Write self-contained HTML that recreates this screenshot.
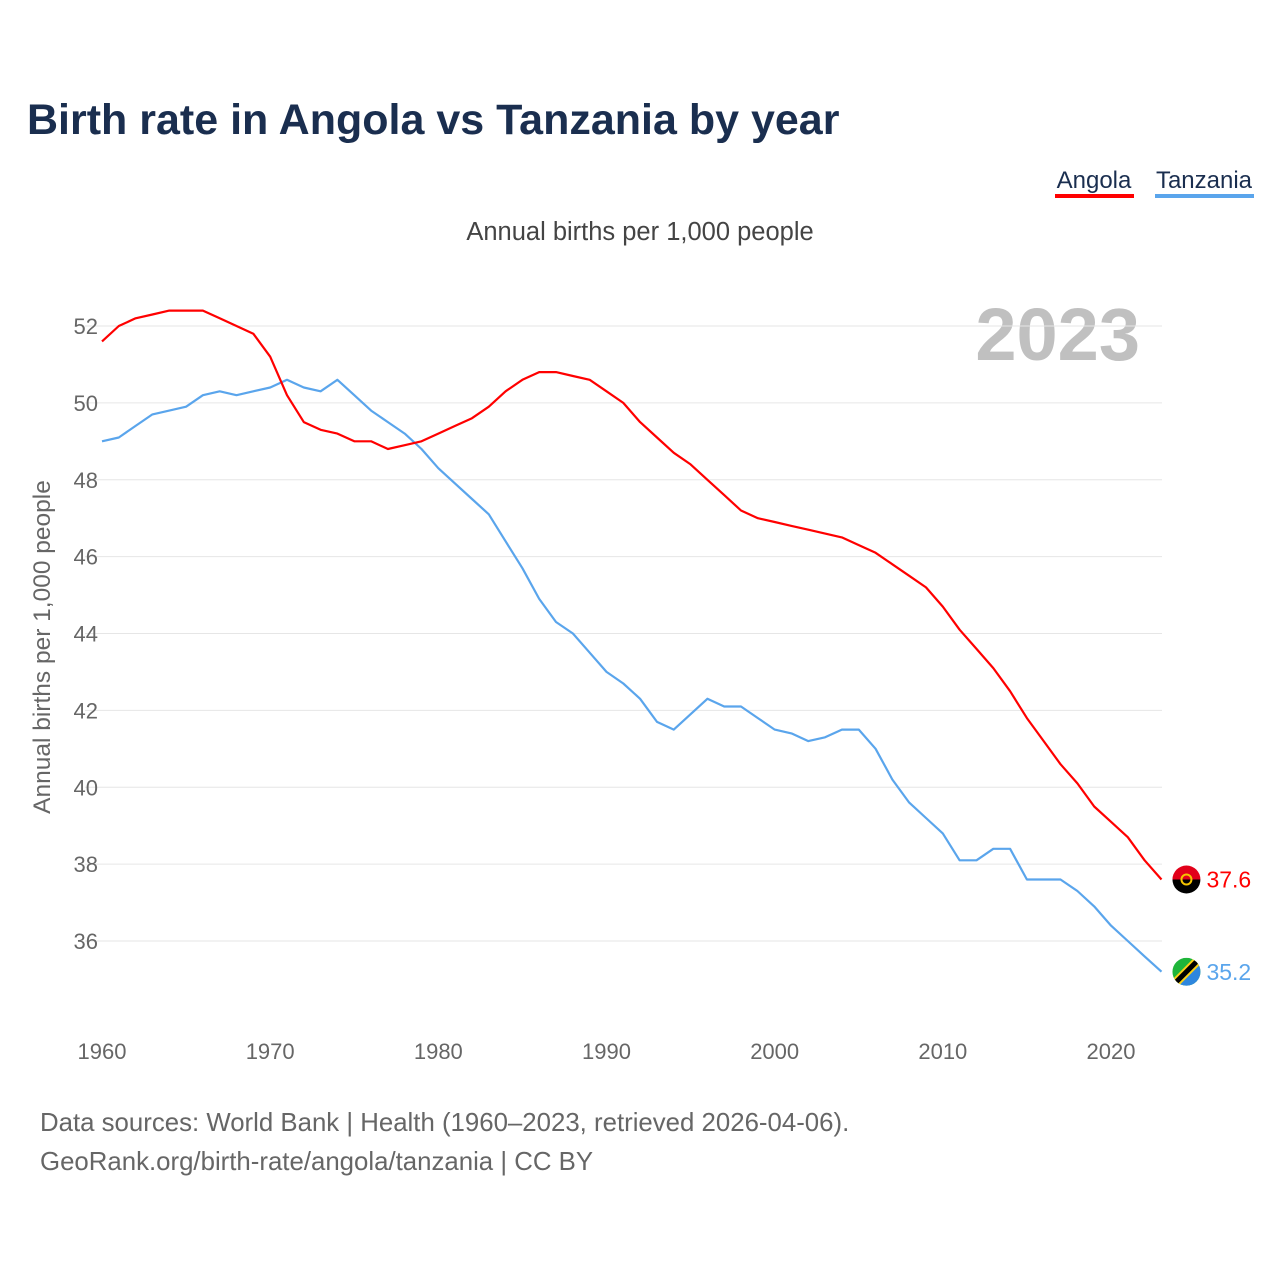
<!DOCTYPE html>
<html><head><meta charset="utf-8">
<style>
body{margin:0;background:#fff;font-family:"Liberation Sans",sans-serif;}
#wrap{position:relative;width:1280px;height:1280px;overflow:hidden;}
</style></head>
<body>
<div id="wrap">
<svg id="chart" width="1280" height="1280" xmlns="http://www.w3.org/2000/svg">
<text x="27" y="134" font-size="43" font-weight="bold" fill="#1a2e4f">Birth rate in Angola vs Tanzania by year</text>
<g><text x="1094" y="188" font-size="24" fill="#1a2e4f" text-anchor="middle">Angola</text><rect x="1055" y="194" width="79" height="4" fill="#ff0000"/></g>
<g><text x="1204" y="188" font-size="24" fill="#1a2e4f" text-anchor="middle">Tanzania</text><rect x="1155" y="194" width="99" height="4" fill="#5aa5ec"/></g>
<text x="640" y="240" font-size="25.5" fill="#444" text-anchor="middle">Annual births per 1,000 people</text>
<text x="1140" y="360" font-size="74" font-weight="bold" fill="#c0c0c0" text-anchor="end">2023</text>
<text transform="translate(50,647) rotate(-90)" font-size="24.5" fill="#666" text-anchor="middle">Annual births per 1,000 people</text>
<g id="grid"></g><g id="lines"></g><g id="ends"></g>
<text x="40" y="1131" font-size="25.8" fill="#666">Data sources: World Bank | Health (1960–2023, retrieved 2026-04-06).</text>
<text x="40" y="1170" font-size="25.8" fill="#666">GeoRank.org/birth-rate/angola/tanzania | CC BY</text>
</svg>
</div>
<script>
const years=[];for(let y=1960;y<=2023;y++)years.push(y);
const angola=[51.6,52.0,52.2,52.3,52.4,52.4,52.4,52.2,52.0,51.8,51.2,50.2,49.5,49.3,49.2,49.0,49.0,48.8,48.9,49.0,49.2,49.4,49.6,49.9,50.3,50.6,50.8,50.8,50.7,50.6,50.3,50.0,49.5,49.1,48.7,48.4,48.0,47.6,47.2,47.0,46.9,46.8,46.7,46.6,46.5,46.3,46.1,45.8,45.5,45.2,44.7,44.1,43.6,43.1,42.5,41.8,41.2,40.6,40.1,39.5,39.1,38.7,38.1,37.6];
const tanzania=[49.0,49.1,49.4,49.7,49.8,49.9,50.2,50.3,50.2,50.3,50.4,50.6,50.4,50.3,50.6,50.2,49.8,49.5,49.2,48.8,48.3,47.9,47.5,47.1,46.4,45.7,44.9,44.3,44.0,43.5,43.0,42.7,42.3,41.7,41.5,41.9,42.3,42.1,42.1,41.8,41.5,41.4,41.2,41.3,41.5,41.5,41.0,40.2,39.6,39.2,38.8,38.1,38.1,38.4,38.4,37.6,37.6,37.6,37.3,36.9,36.4,36.0,35.6,35.2];
const yTicks=[36,38,40,42,44,46,48,50,52];
const xTicks=[1960,1970,1980,1990,2000,2010,2020];
const NS="http://www.w3.org/2000/svg";
const X=y=>102+(y-1960)*(1111-102)/60;
const Y=v=>326+(52-v)*(941-326)/16;
function mk(t,a,p){const e=document.createElementNS(NS,t);for(const k in a)e.setAttribute(k,a[k]);p.appendChild(e);return e;}
const grid=document.getElementById('grid');
yTicks.forEach(v=>{
 const l=mk('line',{x1:85,x2:1162,y1:Y(v),y2:Y(v),stroke:'#e6e6e6','stroke-width':1},grid);
 
 
 const t=mk('text',{x:98,y:Y(v)+8,'font-size':22,fill:'#666','text-anchor':'end'},grid);t.textContent=v;
 
 
});
xTicks.forEach(y=>{
 const t=mk('text',{x:X(y),y:1059,'font-size':22,fill:'#666','text-anchor':'middle'},grid);t.textContent=y;
 
 
});
const lines=document.getElementById('lines');
function line(data,color,name){
 const d=data.map((v,i)=>(i?'L':'M')+X(years[i]).toFixed(1)+','+Y(v).toFixed(1)).join('');
 const p=mk('path',{d:d,fill:'none',stroke:color,'stroke-width':2.2,'stroke-linejoin':'round'},lines);
 
 
}
line(tanzania,'#5aa5ec','line-tanzania');
line(angola,'#ff0000','line-angola');
const ends=document.getElementById('ends');
function endMark(data,color,name,isAngola){
 const v=data[data.length-1],cx=X(2023)+25,cy=Y(v);
 const g=mk('g',{},ends);
 
 
 const id='c'+name;
 const cp=mk('clipPath',{id:id},g);mk('circle',{cx:cx,cy:cy,r:14},cp);
 const f=mk('g',{'clip-path':'url(#'+id+')'},g);
 if(isAngola){mk('rect',{x:cx-14,y:cy-14,width:28,height:14,fill:'#e2001a'},f);mk('rect',{x:cx-14,y:cy,width:28,height:14,fill:'#000'},f);mk('circle',{cx:cx,cy:cy,r:5,fill:'none',stroke:'#f5c400','stroke-width':2},f);}
 else{mk('rect',{x:cx-14,y:cy-14,width:28,height:28,fill:'#1eb53a'},f);mk('polygon',{points:`${cx+14},${cy-14} ${cx+14},${cy+14} ${cx-14},${cy+14}`,fill:'#2e86de'},f);mk('line',{x1:cx-16,y1:cy+16,x2:cx+16,y2:cy-16,stroke:'#fcd116','stroke-width':9},f);mk('line',{x1:cx-16,y1:cy+16,x2:cx+16,y2:cy-16,stroke:'#000','stroke-width':5},f);}
 const t=mk('text',{x:cx+20,y:cy+8,'font-size':23,fill:color},g);t.textContent=v.toFixed(1);
 
 
}
endMark(angola,'#ff0000','angola',true);
endMark(tanzania,'#5aa5ec','tanzania',false);
</script>
</body></html>
